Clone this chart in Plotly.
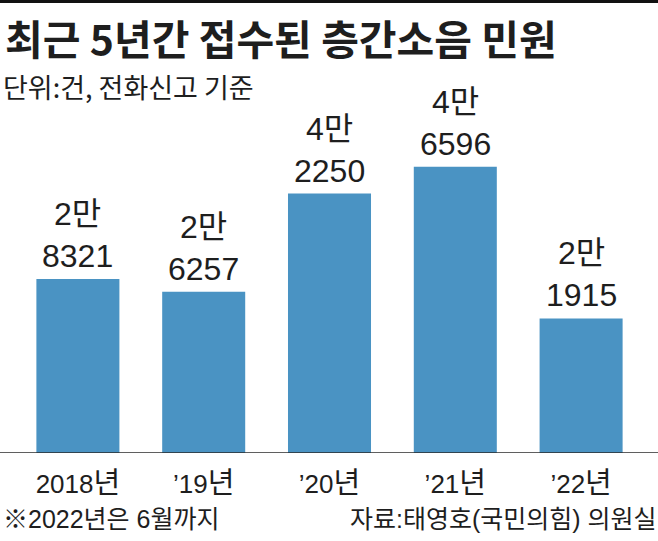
import plotly.graph_objects as go

# ---- data ----
categories = ["2018년", "’19년", "’20년", "’21년", "’22년"]
complaints = [28321, 26257, 42250, 46596, 21915]

title_text = "최근 5년간 접수된 층간소음 민원"
subtitle_text = "단위:건, 전화신고 기준"
note_text = "※2022년은 6월까지"
source_text = "자료:태영호(국민의힘) 의원실"

# ---- layout geometry ----
W, H = 658, 541
L, R, T, B = 15, 14, 60, 88
PW, PH = W - L - R, H - T - B

def px_x(px):
    return (px - L) / PW

def px_y(py):
    return (H - B - py) / PH

DIGIT = "Liberation Sans, Arial, Noto Sans CJK KR, sans-serif"
CJK = "Noto Sans CJK KR, sans-serif"
BAR_COLOR = "#4a93c3"
TXT = "#1e1e1e"

def tick_label(c):
    # digits in a sans font, Hangul unit slightly larger
    return c[:-1] + f"<span style='font-size:29px'>{c[-1]}</span>"

fig = go.Figure()
fig.add_trace(go.Bar(
    x=categories, y=complaints,
    marker=dict(color=BAR_COLOR, line=dict(width=0)),
    hoverinfo="skip",
))

annotations = []
for c, v in zip(categories, complaints):
    annotations.append(dict(
        x=c, y=v, xref="x", yref="y",
        text=f"{v // 10000}만<br>{v % 10000}",
        showarrow=False, xanchor="center", yanchor="bottom", yshift=3,
        align="center",
        font=dict(family=DIGIT, size=32, color=TXT),
    ))

annotations += [
    dict(x=px_x(3), y=px_y(37), xref="paper", yref="paper", text=title_text,
         showarrow=False, xanchor="left", yanchor="middle",
         font=dict(family=CJK, size=41, color=TXT, weight=700)),
    dict(x=px_x(1), y=px_y(86), xref="paper", yref="paper", text=subtitle_text,
         showarrow=False, xanchor="left", yanchor="middle",
         font=dict(family=CJK, size=27, color=TXT)),
    dict(x=px_x(1), y=px_y(519), xref="paper", yref="paper", text=note_text,
         showarrow=False, xanchor="left", yanchor="middle",
         font=dict(family=DIGIT, size=25, color=TXT)),
    dict(x=px_x(659), y=px_y(519), xref="paper", yref="paper", text=source_text,
         showarrow=False, xanchor="right", yanchor="middle",
         font=dict(family=DIGIT, size=25, color=TXT)),
]

shapes = [
    dict(type="line", xref="paper", yref="y", x0=px_x(0), x1=px_x(W), y0=0, y1=0,
         line=dict(color="#2a2a2a", width=1.5), layer="above"),
    dict(type="rect", xref="paper", yref="paper", x0=px_x(0), x1=px_x(W),
         y0=px_y(3), y1=px_y(0), fillcolor="#111111", line=dict(width=0)),
]

fig.update_layout(
    width=W, height=H,
    margin=dict(l=L, r=R, t=T, b=B, pad=0),
    paper_bgcolor="white", plot_bgcolor="white",
    showlegend=False,
    bargap=0.34,
    annotations=annotations,
    shapes=shapes,
    xaxis=dict(
        type="category", range=[-0.5, 4.5],
        tickmode="array", tickvals=categories,
        ticktext=[tick_label(c) for c in categories],
        showgrid=False, zeroline=False, showline=False, ticks="",
        tickfont=dict(family=DIGIT, size=26, color=TXT),
        ticklabelstandoff=13, fixedrange=True,
    ),
    yaxis=dict(range=[0, 64000], visible=False, showgrid=False, zeroline=False,
               fixedrange=True),
)

fig.write_html("out.html", config={"displayModeBar": False})
